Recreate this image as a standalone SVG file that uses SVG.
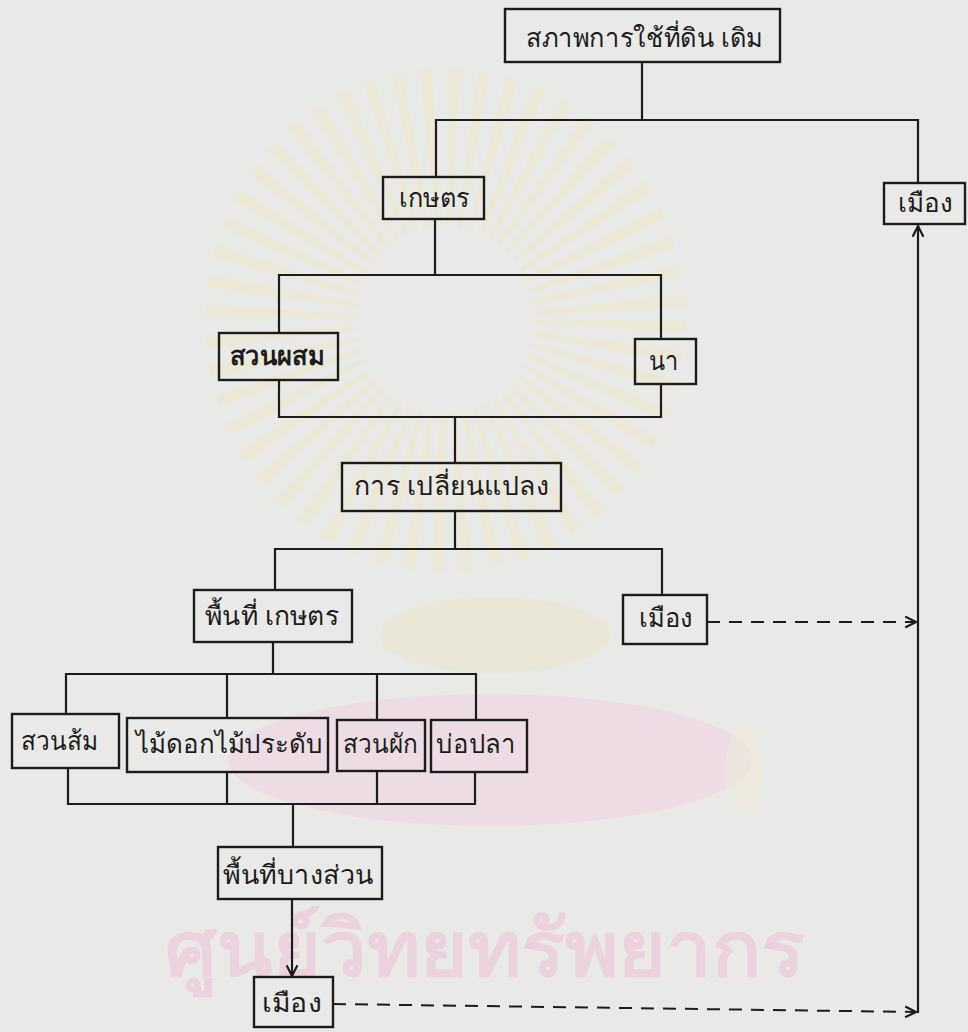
<svg xmlns="http://www.w3.org/2000/svg" width="968" height="1032" viewBox="0 0 968 1032">
  <defs>
    <style>
      .box { fill: none; stroke: #1c1c1c; stroke-width: 2.4; }
      .lbl { font-family: "Noto Sans", "DejaVu Sans", sans-serif; font-size: 26px; fill: #1c1c1c; text-anchor: middle; }
      .bold { font-weight: bold; }
      .wire { fill: none; stroke: #1c1c1c; stroke-width: 2.2; }
      .dash { fill: none; stroke: #1c1c1c; stroke-width: 2; stroke-dasharray: 13 9; }
    </style>
    <marker id="open" viewBox="0 0 12 12" refX="11" refY="6" markerWidth="13" markerHeight="13" markerUnits="userSpaceOnUse" orient="auto">
      <path d="M1,1 L11,6 L1,11" fill="none" stroke="#1c1c1c" stroke-width="2"/>
    </marker>
  </defs>

  <rect width="968" height="1032" fill="#e9e9e7"/>

  <g id="watermark">
    <circle cx="445" cy="320" r="165" fill="none" stroke="#efe6c2" stroke-opacity="0.45" stroke-width="150" stroke-dasharray="8 12" transform="translate(445 320) scale(1 1.05) translate(-445 -320)"/>
    <ellipse cx="495" cy="635" rx="115" ry="38" fill="#ece5c8" opacity="0.5"/>
    <ellipse cx="490" cy="760" rx="262" ry="66" fill="#f0d6e0" opacity="0.65"/>
    <ellipse cx="745" cy="770" rx="20" ry="45" fill="#eeeadb" opacity="0.6"/>
    <text x="485" y="976" font-family="Noto Sans, DejaVu Sans, sans-serif" font-size="78" font-weight="bold" fill="#ecd2dc" text-anchor="middle" textLength="640" lengthAdjust="spacingAndGlyphs">ศูนย์วิทยทรัพยากร</text>
  </g>

  <g id="connectors">
    <path class="wire" d="M642,62 V121"/>
    <path class="wire" d="M436,177 V120 H918 V183"/>
    <path class="wire" d="M435,219 V276"/>
    <path class="wire" d="M279,333 V275 H661 V339"/>
    <path class="wire" d="M279,380 V417 H661 V384"/>
    <path class="wire" d="M455,417 V463"/>
    <path class="wire" d="M455,511 V549"/>
    <path class="wire" d="M275,590 V549 H662 V595"/>
    <path class="wire" d="M273,642 V674"/>
    <path class="wire" d="M66,714 V674 H476 V720"/>
    <path class="wire" d="M227,674 V718"/>
    <path class="wire" d="M377,674 V720"/>
    <path class="wire" d="M68,768 V804 H475 V772"/>
    <path class="wire" d="M227,772 V804"/>
    <path class="wire" d="M377,771 V804"/>
    <path class="wire" d="M293,804 V847"/>
    <path class="wire" d="M292,899 V976" marker-end="url(#open)"/>
    <path class="wire" d="M918,1013 V226" marker-end="url(#open)"/>
    <path class="dash" d="M707,622 H916" marker-end="url(#open)"/>
    <path class="dash" d="M333,1004 L916,1012" marker-end="url(#open)"/>
  </g>

  <g id="n-original">
    <rect class="box" x="505" y="9" width="275" height="53"/>
    <text class="lbl" x="644.5" y="47" textLength="237" lengthAdjust="spacingAndGlyphs">สภาพการใช้ที่ดิน เดิม</text>
  </g>
  <g id="n-agri">
    <rect class="box" x="383" y="177" width="101" height="42"/>
    <text class="lbl" x="434.5" y="207" textLength="71" lengthAdjust="spacingAndGlyphs">เกษตร</text>
  </g>
  <g id="n-city1">
    <rect class="box" x="884" y="183" width="81" height="41"/>
    <text class="lbl" x="925.5" y="212" textLength="55" lengthAdjust="spacingAndGlyphs">เมือง</text>
  </g>
  <g id="n-mixed">
    <rect class="box" x="219" y="333" width="119" height="47"/>
    <text class="lbl bold" x="277" y="365" textLength="95" lengthAdjust="spacingAndGlyphs">สวนผสม</text>
  </g>
  <g id="n-paddy">
    <rect class="box" x="635" y="339" width="61" height="45"/>
    <text class="lbl" x="664" y="370" textLength="30" lengthAdjust="spacingAndGlyphs">นา</text>
  </g>
  <g id="n-change">
    <rect class="box" x="342" y="463" width="219" height="48"/>
    <text class="lbl" x="451.5" y="495" textLength="195" lengthAdjust="spacingAndGlyphs">การ เปลี่ยนแปลง</text>
  </g>
  <g id="n-agriarea">
    <rect class="box" x="194" y="590" width="158" height="52"/>
    <text class="lbl" x="272" y="625" textLength="134" lengthAdjust="spacingAndGlyphs">พื้นที่ เกษตร</text>
  </g>
  <g id="n-city2">
    <rect class="box" x="623" y="595" width="84" height="49"/>
    <text class="lbl" x="666" y="627" textLength="54" lengthAdjust="spacingAndGlyphs">เมือง</text>
  </g>
  <g id="n-orange">
    <rect class="box" x="12" y="714" width="107" height="54"/>
    <text class="lbl" x="59.5" y="750" textLength="77" lengthAdjust="spacingAndGlyphs">สวนส้ม</text>
  </g>
  <g id="n-flower">
    <rect class="box" x="127" y="718" width="201" height="54"/>
    <text class="lbl" x="229.5" y="753" textLength="187" lengthAdjust="spacingAndGlyphs">ไม้ดอกไม้ประดับ</text>
  </g>
  <g id="n-veg">
    <rect class="box" x="337" y="720" width="88" height="51"/>
    <text class="lbl" x="380.5" y="753" textLength="75" lengthAdjust="spacingAndGlyphs">สวนผัก</text>
  </g>
  <g id="n-fish">
    <rect class="box" x="431" y="720" width="96" height="52"/>
    <text class="lbl" x="476" y="753" textLength="80" lengthAdjust="spacingAndGlyphs">บ่อปลา</text>
  </g>
  <g id="n-part">
    <rect class="box" x="218" y="847" width="164" height="52"/>
    <text class="lbl" x="298.5" y="884" textLength="151" lengthAdjust="spacingAndGlyphs">พื้นที่บางส่วน</text>
  </g>
  <g id="n-city3">
    <rect class="box" x="254" y="977" width="79" height="50"/>
    <text class="lbl" x="292" y="1012" textLength="60" lengthAdjust="spacingAndGlyphs">เมือง</text>
  </g>
</svg>
